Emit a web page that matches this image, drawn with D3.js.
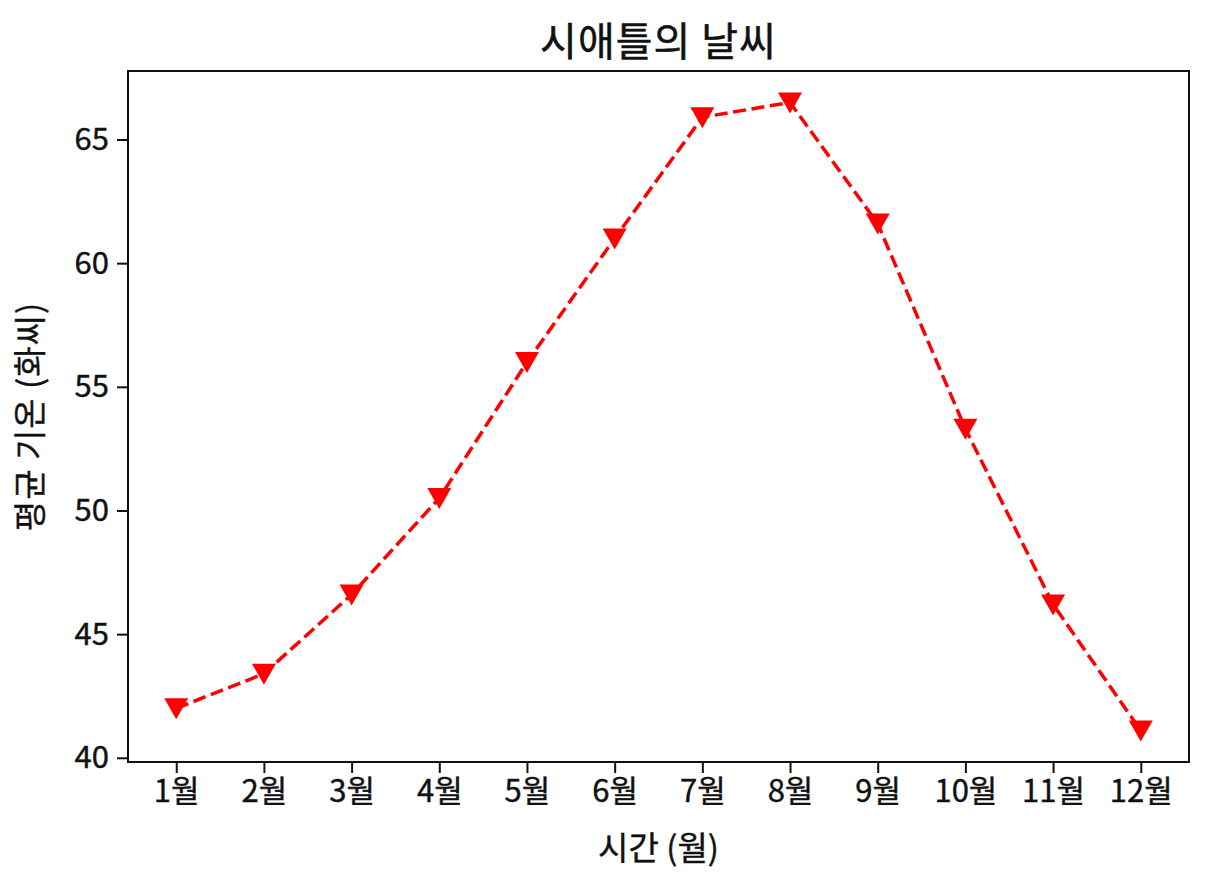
<!DOCTYPE html>
<html>
<head>
<meta charset="utf-8">
<script src="https://cdn.jsdelivr.net/npm/d3@7"></script>
<style>
  body { margin: 0; background: #fff; }
  text { font-family: "Noto Sans CJK KR", "Noto Sans", sans-serif; fill: #111; }
</style>
</head>
<body>
<div id="chart"></div>
<script>
// chart data
var months = ["1월", "2월", "3월", "4월", "5월", "6월", "7월", "8월", "9월", "10월", "11월", "12월"];
var avgTemps = [42.0, 43.4, 46.6, 50.5, 56.0, 61.0, 65.9, 66.5, 61.6, 53.3, 46.2, 41.1];
var yTicks = [40, 45, 50, 55, 60, 65];

var titleText = "시애틀의 날씨";
var xLabelText = "시간 (월)";
var yLabelText = "평균 기온 (화씨)";

var svgWidth = 1216;
var svgHeight = 880;

var margin = { top: 71, right: 27, bottom: 118, left: 128 };
var width = svgWidth - margin.left - margin.right;
var height = svgHeight - margin.top - margin.bottom;

var svg = d3.select("#chart")
  .append("svg")
  .attr("width", svgWidth)
  .attr("height", svgHeight);

var chartGroup = svg.append("g")
  .attr("transform", `translate(${margin.left}, ${margin.top})`);

// matplotlib style 5% padding around the data
var n = months.length;
var xPad = (n - 1) * 0.05;
var xScale = d3.scaleLinear()
  .domain([-xPad, n - 1 + xPad])
  .range([0, width]);

var yMin = d3.min(avgTemps), yMax = d3.max(avgTemps);
var yPad = (yMax - yMin) * 0.05;
var yScale = d3.scaleLinear()
  .domain([yMin - yPad, yMax + yPad])
  .range([height, 0]);

var bottomAxis = d3.axisBottom(xScale)
  .tickValues(d3.range(n))
  .tickFormat(i => months[i])
  .tickSize(11)
  .tickPadding(7)
  .tickSizeOuter(0);

var leftAxis = d3.axisLeft(yScale)
  .tickValues(yTicks)
  .tickSize(11)
  .tickPadding(8)
  .tickSizeOuter(0);

var xAxisG = chartGroup.append("g")
  .attr("transform", `translate(0, ${height})`)
  .call(bottomAxis);

var yAxisG = chartGroup.append("g")
  .call(leftAxis);

[xAxisG, yAxisG].forEach(function(g) {
  g.select(".domain").remove();
  g.selectAll(".tick line").attr("stroke", "#111").attr("stroke-width", 2);
  g.selectAll(".tick text")
    .attr("font-size", "31px")
    .attr("fill", "#111")
    .attr("stroke", "#111")
    .attr("stroke-width", 0.4)
    .style("font-family", '"Noto Sans CJK KR", sans-serif');
});

// plot frame
chartGroup.append("rect")
  .attr("x", 0)
  .attr("y", 0)
  .attr("width", width)
  .attr("height", height)
  .attr("fill", "none")
  .attr("stroke", "#111")
  .attr("stroke-width", 2);

// dashed red line
var line = d3.line()
  .x((d, i) => xScale(i))
  .y(d => yScale(d));

chartGroup.append("path")
  .datum(avgTemps)
  .attr("d", line)
  .attr("fill", "none")
  .attr("stroke", "#ff0000")
  .attr("stroke-width", 3.5)
  .attr("stroke-dasharray", "13,5.6");

// downward triangle markers
chartGroup.selectAll(".marker")
  .data(avgTemps)
  .enter()
  .append("path")
  .attr("class", "marker")
  .attr("d", "M-12,-10L12,-10L0,11Z")
  .attr("transform", (d, i) => `translate(${xScale(i)}, ${yScale(d)})`)
  .attr("fill", "#ff0000");

// title and axis labels
svg.append("text")
  .attr("x", margin.left + width / 2)
  .attr("y", 56)
  .attr("text-anchor", "middle")
  .attr("font-size", "40px")
  .attr("stroke", "#111")
  .attr("stroke-width", 0.5)
  .attr("letter-spacing", "1px")
  .text(titleText);

svg.append("text")
  .attr("x", margin.left + width / 2)
  .attr("y", 860)
  .attr("text-anchor", "middle")
  .attr("font-size", "33px")
  .attr("stroke", "#111")
  .attr("stroke-width", 0.4)
  .text(xLabelText);

svg.append("text")
  .attr("transform", `translate(42, ${margin.top + height / 2}) rotate(-90)`)
  .attr("text-anchor", "middle")
  .attr("font-size", "33px")
  .attr("stroke", "#111")
  .attr("stroke-width", 0.4)
  .attr("letter-spacing", "1px")
  .text(yLabelText);
</script>
</body>
</html>
